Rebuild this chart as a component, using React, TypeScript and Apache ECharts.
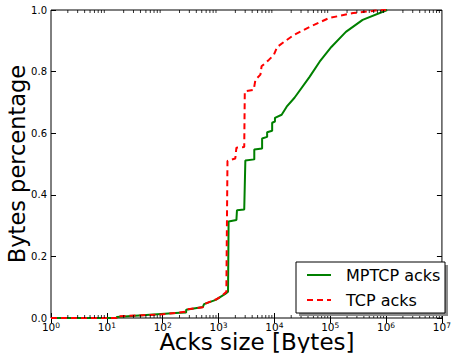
import React, { useEffect, useRef } from 'react';
import * as echarts from 'echarts';

// MPTCP acks CDF (ack size in bytes, cumulative fraction of bytes)
const mptcpBytes = [1, 15, 15, 200, 263, 263, 525, 550, 891, 1318, 1479, 1514, 2089, 2138, 2884, 3020, 4365, 4365, 6026, 6026, 7413, 7413, 9120, 9120, 10233, 10233, 13490, 16596, 22909, 42658, 64565, 104713, 190546, 380189, 1047129];
const mptcpFrac = [0, 0, 0.003, 0.017, 0.018, 0.027, 0.036, 0.045, 0.059, 0.078, 0.085, 0.313, 0.318, 0.35, 0.352, 0.511, 0.515, 0.547, 0.55, 0.583, 0.588, 0.603, 0.608, 0.634, 0.638, 0.65, 0.66, 0.686, 0.715, 0.783, 0.832, 0.88, 0.929, 0.968, 1.0];

// TCP acks CDF
const tcpBytes = [1, 15, 15, 100, 251, 263, 525, 550, 891, 1122, 1380, 1445, 1995, 2089, 2884, 2951, 4266, 4571, 5623, 5888, 7943, 9772, 11220, 15849, 22387, 42658, 95499, 257040, 645654, 1000000];
const tcpFrac = [0, 0, 0.005, 0.012, 0.02, 0.028, 0.035, 0.045, 0.06, 0.07, 0.085, 0.51, 0.518, 0.553, 0.555, 0.736, 0.741, 0.773, 0.79, 0.817, 0.838, 0.854, 0.88, 0.9, 0.919, 0.945, 0.974, 0.99, 0.998, 1.0];

const seriesNames = ['MPTCP acks', 'TCP acks'];
const yTicks = [0, 0.2, 0.4, 0.6, 0.8, 1.0];
const decades = [1, 10, 100, 1000, 10000, 100000, 1000000];
const minorMultipliers = [2, 3, 4, 5, 6, 7, 8, 9];

const FONT = 'DejaVu Sans';

export default function App() {
  const ref = useRef<HTMLDivElement>(null);
  useEffect(() => {
    if (!ref.current) return;
    const chart = echarts.init(ref.current, undefined, { renderer: 'svg' });
    const minorTicks: number[] = [];
    decades.forEach((d) => minorMultipliers.forEach((m) => minorTicks.push(m * d)));
    const xAxisBase = {
      type: 'log' as const,
      logBase: 10,
      min: 1,
      max: 10000000,
      splitNumber: 7,
      axisLine: { show: false },
      splitLine: { show: false },
      axisTick: { show: true, inside: true, length: 5, lineStyle: { color: '#000', width: 1 } },
    };
    const yAxisBase = {
      type: 'value' as const,
      min: 0,
      max: 1,
      interval: 0.2,
      axisLine: { show: false },
      splitLine: { show: false },
      axisTick: { show: true, inside: true, length: 5, lineStyle: { color: '#000', width: 1 } },
    };
    chart.setOption({
      animation: false,
      grid: { left: 51, right: 7, top: 10, bottom: 35, show: true, borderColor: '#000', borderWidth: 1, backgroundColor: '#fff' },
      xAxis: [
        {
          ...xAxisBase,
          position: 'bottom',
          axisLabel: {
            show: true,
            margin: 3,
            formatter: (v: number) => `{b|10}{s|${Math.round(Math.log10(v))}}`,
            rich: {
              b: { fontSize: 10.5, fontFamily: FONT, color: '#000', lineHeight: 12 },
              s: { fontSize: 7.5, fontFamily: FONT, color: '#000', verticalAlign: 'top', lineHeight: 8 },
            },
          },
        },
        { ...xAxisBase, position: 'top', axisLabel: { show: false } },
      ],
      yAxis: [
        {
          ...yAxisBase,
          position: 'left',
          axisLabel: {
            show: true,
            margin: 4,
            fontSize: 10,
            fontFamily: FONT,
            color: '#000',
            formatter: (v: number) => (yTicks.includes(Math.round(v * 10) / 10) ? v.toFixed(1) : ''),
          },
        },
        { ...yAxisBase, position: 'right', axisLabel: { show: false } },
      ],
      legend: {
        data: seriesNames,
        orient: 'vertical',
        left: 306,
        top: 267,
        padding: 0,
        itemWidth: 24,
        itemHeight: 14,
        itemGap: 9,
        z: 10,
        itemStyle: { opacity: 0 },
        textStyle: { fontSize: 16, fontFamily: FONT, color: '#000', padding: [0, 0, 0, 10] },
      },
      graphic: [
        { type: 'rect', z: 8, shape: { x: 299, y: 265, width: 149, height: 51 }, style: { fill: '#8c8c8c' } },
        { type: 'rect', z: 9, shape: { x: 296, y: 262, width: 149, height: 51 }, style: { fill: '#fff', stroke: '#000', lineWidth: 1 } },
        {
          type: 'text', z: 10, x: 257, y: 342,
          style: { text: 'Acks size [Bytes]', fontSize: 23, fontFamily: FONT, fill: '#000', align: 'center', verticalAlign: 'middle' },
        },
        {
          type: 'text', z: 10, x: 17, y: 164, rotation: Math.PI / 2,
          style: { text: 'Bytes percentage', fontSize: 22.5, fontFamily: FONT, fill: '#000', align: 'center', verticalAlign: 'middle' },
        },
      ],
      series: [
        {
          name: seriesNames[0],
          type: 'line',
          data: mptcpBytes.map((b, i) => [b, mptcpFrac[i]]),
          showSymbol: false,
          symbol: 'none',
          lineStyle: { color: '#008000', width: 2, type: 'solid' },
          itemStyle: { color: '#008000' },
          z: 3,
        },
        {
          name: seriesNames[1],
          type: 'line',
          data: tcpBytes.map((b, i) => [b, tcpFrac[i]]),
          showSymbol: false,
          symbol: 'none',
          lineStyle: { color: '#ff0000', width: 2, type: [6, 4] },
          itemStyle: { color: '#ff0000' },
          z: 4,
        },
        {
          name: 'minorBottom',
          type: 'scatter',
          data: minorTicks.map((v) => [v, 0]),
          symbol: 'rect',
          symbolSize: [1, 3],
          symbolOffset: [0, -1.5],
          itemStyle: { color: '#000' },
          silent: true,
          clip: false,
          z: 5,
        },
        {
          name: 'minorTop',
          type: 'scatter',
          data: minorTicks.map((v) => [v, 1]),
          symbol: 'rect',
          symbolSize: [1, 3],
          symbolOffset: [0, 1.5],
          itemStyle: { color: '#000' },
          silent: true,
          clip: false,
          z: 5,
        },
      ],
    });
    return () => chart.dispose();
  }, []);
  return <div ref={ref} style={{ position: 'fixed', left: 0, top: 0, width: 454, height: 353, background: '#fff' }} />;
}
